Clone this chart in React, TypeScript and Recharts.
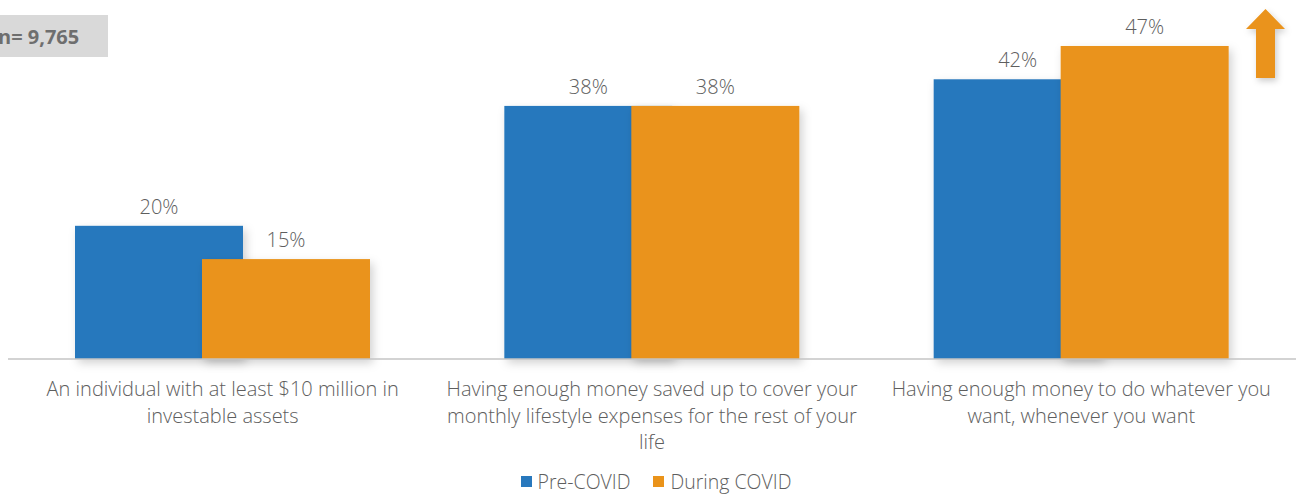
import React from 'react';
import { BarChart, Bar, XAxis, YAxis, LabelList, Legend } from 'recharts';

const categories = [
  'An individual with at least $10 million in\ninvestable assets',
  'Having enough money saved up to cover your\nmonthly lifestyle expenses for the rest of your\nlife',
  'Having enough money to do whatever you\nwant, whenever you want',
];
const preCovid = [20, 38, 42];
const duringCovid = [15, 38, 47];
const seriesNames = ['Pre-COVID', 'During COVID'];

const BLUE = '#2878BD';
const ORANGE = '#EA931A';
const TEXT = '#5E5E5E';
const FONT = '"Open Sans", sans-serif';
const FS = 20;

const data = categories.map((c, i) => ({ name: c, pre: preCovid[i], during: duringCovid[i] }));

const CategoryTick = (props: any) => {
  const { x, y, payload } = props;
  const lines = String(payload.value).split('\n');
  return (
    <g>
      {lines.map((l, i) => (
        <text
          key={i}
          x={x}
          y={y + 29 + i * 26.5}
          textAnchor="middle"
          fontFamily={FONT}
          fontSize={FS}
          fontWeight={300}
          fill={TEXT}
        >
          {l}
        </text>
      ))}
    </g>
  );
};

const ShadowBar = (props: any) => {
  const { x, y, width, height, fill } = props;
  if (!height || height <= 0) return null;
  return <rect x={x} y={y} width={width} height={height} fill={fill} filter="url(#barShadow)" />;
};

const LegendContent = () => (
  <div
    style={{
      display: 'flex',
      justifyContent: 'center',
      alignItems: 'center',
      fontFamily: FONT,
      fontSize: 19.5,
      fontWeight: 300,
      color: TEXT,
      height: 26,
      paddingLeft: 8,
    }}
  >
    {seriesNames.map((n, i) => (
      <div key={n} style={{ display: 'flex', alignItems: 'center', marginRight: i === 0 ? 23 : 0 }}>
        <div style={{ width: 11, height: 11, background: i === 0 ? BLUE : ORANGE, marginRight: 6 }} />
        <span>{n}</span>
      </div>
    ))}
  </div>
);

export default function App() {
  return (
    <div style={{ position: 'absolute', left: 0, top: 0, width: 1296, height: 496, background: '#fff' }}>
      <BarChart
        width={1296}
        height={496}
        data={data}
        margin={{ top: 26, right: 0, bottom: 2, left: 8 }}
        barSize={168}
        barGap={-41}
      >
        <defs>
          <filter id="barShadow" x="-20%" y="-20%" width="150%" height="150%">
            <feDropShadow dx="3" dy="4" stdDeviation="5" floodColor="#000" floodOpacity="0.18" />
          </filter>
        </defs>
        <XAxis
          dataKey="name"
          interval={0}
          tickLine={false}
          axisLine={{ stroke: '#C4C4C4', strokeWidth: 1.5 }}
          tick={<CategoryTick />}
          height={109}
        />
        <YAxis hide domain={[0, 50]} />
        <Legend verticalAlign="bottom" content={<LegendContent />} />
        <Bar dataKey="pre" name={seriesNames[0]} fill={BLUE} isAnimationActive={false} shape={<ShadowBar />}>
          <LabelList
            dataKey="pre"
            position="top"
            offset={12}
            formatter={(v: any) => `${v}%`}
            style={{ fontFamily: FONT, fontSize: FS, fontWeight: 300, fill: TEXT }}
          />
        </Bar>
        <Bar dataKey="during" name={seriesNames[1]} fill={ORANGE} isAnimationActive={false} shape={<ShadowBar />}>
          <LabelList
            dataKey="during"
            position="top"
            offset={12}
            formatter={(v: any) => `${v}%`}
            style={{ fontFamily: FONT, fontSize: FS, fontWeight: 300, fill: TEXT }}
          />
        </Bar>
      </BarChart>
      <div
        style={{
          position: 'absolute',
          left: 0,
          top: 15,
          width: 108,
          height: 42,
          background: '#D9D9D9',
          display: 'flex',
          alignItems: 'center',
          fontFamily: FONT,
          fontWeight: 700,
          fontSize: 20,
          color: '#6E6E6E',
          overflow: 'hidden',
        }}
      >
        <span style={{ marginLeft: -2, whiteSpace: 'nowrap' }}>n= 9,765</span>
      </div>
      <svg style={{ position: 'absolute', left: 0, top: 0 }} width={1296} height={496} pointerEvents="none">
        <defs>
          <filter id="arrowShadow" x="-50%" y="-50%" width="200%" height="200%">
            <feDropShadow dx="2" dy="3" stdDeviation="3" floodColor="#000" floodOpacity="0.2" />
          </filter>
        </defs>
        <polygon
          points="1265.5,9 1285,29 1275,29 1275,78 1256,78 1256,29 1246,29"
          fill={ORANGE}
          filter="url(#arrowShadow)"
        />
      </svg>
    </div>
  );
}
